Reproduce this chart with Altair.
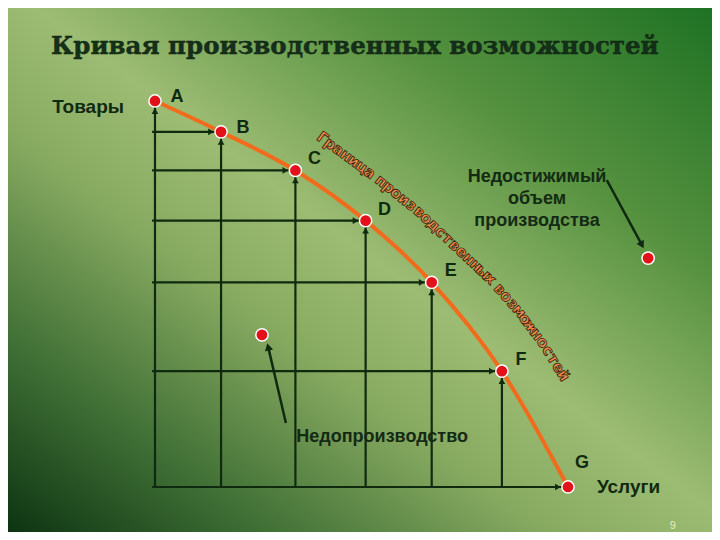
import math
import altair as alt
import pandas as pd

# ---------------- data ----------------
points = ["A", "B", "C", "D", "E", "F", "G"]
services = [0, 16, 34, 51, 67, 84, 100]      # Услуги
goods = [100, 92, 82, 69, 53, 30, 0]         # Товары

under_pt = [25.9, 39.4]                       # Недопроизводство
over_pt = [119.4, 59.3]                       # Недостижимый объем

title_text = "Кривая производственных возможностей"
frontier_text = "Граница производственных возможностей"
# path (data units) along which the frontier caption runs
cap_path_x = [39.6, 47.2, 54.5, 64.2, 73.8, 81.6, 88.4, 94.4, 99.5]
cap_path_y = [91.2, 85.2, 79.5, 71.2, 61.4, 53.6, 45.3, 36.8, 27.8]

# ---------------- layout ----------------
W, H = 704, 524
XD = [-35.59, 134.87]
YD = [-11.66, 124.09]
pxx = W / (XD[1] - XD[0])
pxy = H / (YD[1] - YD[0])

DARK = "#0f2a0f"
xs = alt.Scale(domain=XD, nice=False, zero=False)
ys = alt.Scale(domain=YD, nice=False, zero=False)


def X(f="x"):
    return alt.X(f, type="quantitative", scale=xs, axis=None)


def Y(f="y"):
    return alt.Y(f, type="quantitative", scale=ys, axis=None)


# background gradient
grad = alt.LinearGradient(
    gradient="linear",
    x1=1, y1=0, x2=0, y2=1,
    stops=[
        alt.GradientStop(offset=0.0, color="#1f7224"),
        alt.GradientStop(offset=0.25, color="#55913f"),
        alt.GradientStop(offset=0.48, color="#9dbc73"),
        alt.GradientStop(offset=0.62, color="#86a960"),
        alt.GradientStop(offset=0.82, color="#3f6f35"),
        alt.GradientStop(offset=1.0, color="#0d3412"),
    ],
)
bg = alt.Chart(pd.DataFrame({"a": [0]})).mark_rect(fill=grad, strokeWidth=0).encode(
    x=alt.value(0), x2=alt.value(W), y=alt.value(0), y2=alt.value(H)
)

pts = pd.DataFrame({"p": points, "x": services, "y": goods})

vdf = pd.DataFrame({"x": services[:-1], "y": [0] * 6, "y2": goods[:-1]})
hdf = pd.DataFrame({"x": [-0.7] * 6, "x2": services[1:], "y": goods[1:]})

vlines = alt.Chart(vdf).mark_rule(color=DARK, strokeWidth=2.2).encode(
    x=X(), y=Y(), y2="y2"
)
hlines = alt.Chart(hdf).mark_rule(color=DARK, strokeWidth=2.2).encode(
    x=X(), x2="x2", y=Y()
)
up_heads = alt.Chart(pts.iloc[:-1]).mark_point(
    shape="triangle-up", filled=True, size=45, color=DARK, opacity=1, yOffset=10
).encode(x=X(), y=Y())
right_heads = alt.Chart(pts.iloc[1:]).mark_point(
    shape="triangle-right", filled=True, size=45, color=DARK, opacity=1, xOffset=-10
).encode(x=X(), y=Y())

curve = alt.Chart(pts).mark_line(
    color="#f26b1d", strokeWidth=4, interpolate="monotone"
).encode(x=X(), y=Y())

extra = pd.DataFrame({"x": [under_pt[0], over_pt[0]], "y": [under_pt[1], over_pt[1]]})
allpts = pd.concat([pts[["x", "y"]], extra], ignore_index=True)
dots = alt.Chart(allpts).mark_circle(
    size=150, color="#e3121a", stroke="white", strokeWidth=1.5, opacity=1
).encode(x=X(), y=Y())

# pointer arrows
arr = pd.DataFrame({
    "x": [31.7, 109.4], "y": [16.6, 79.5],
    "x2": [27.4, 117.9], "y2": [36.3, 62.7],
    "ang": [346, 152],
})
arrows = alt.Chart(arr).mark_rule(color=DARK, strokeWidth=2.5).encode(
    x=X(), y=Y(), x2="x2", y2="y2"
)
arrow_heads = alt.Chart(arr).mark_point(
    shape="triangle-up", filled=True, size=70, color=DARK, opacity=1
).encode(x=X("x2"), y=Y("y2"), angle=alt.Angle("ang:Q", scale=None))

lab_style = dict(font="Liberation Sans", fontWeight="bold", fontSize=18, color=DARK,
                 align="center", baseline="middle")
labels1 = alt.Chart(pts.iloc[0:2]).mark_text(dx=22, dy=-4, **lab_style).encode(
    x=X(), y=Y(), text="p"
)
labels2 = alt.Chart(pts.iloc[2:6]).mark_text(dx=19, dy=-11, **lab_style).encode(
    x=X(), y=Y(), text="p"
)
labels3 = alt.Chart(pts.iloc[6:7]).mark_text(dx=14, dy=-24, **lab_style).encode(
    x=X(), y=Y(), text="p"
)

# free texts
texts = pd.DataFrame({
    "x": [-24.9, 107.0, 55.0],
    "y": [98.4, 0.0, 13.0],
    "t": ["Товары", "Услуги", "Недопроизводство"],
})
t_left = alt.Chart(texts.iloc[0:2]).mark_text(
    font="Liberation Sans", fontWeight="bold", fontSize=19, color=DARK,
    align="left", baseline="middle"
).encode(x=X(), y=Y(), text="t")
t_under = alt.Chart(texts.iloc[2:3]).mark_text(
    font="Liberation Sans", fontWeight="bold", fontSize=18, color="#142a14",
    align="center", baseline="middle"
).encode(x=X(), y=Y(), text="t")

t_over = alt.Chart(pd.DataFrame({"x": [92.5], "y": [80.3]})).mark_text(
    font="Liberation Sans", fontWeight="bold", fontSize=18, color="#142a14",
    align="center", baseline="middle", lineHeight=22,
    text=["Недостижимый", "объем", "производства"],
).encode(x=X(), y=Y())

# title
tdf = pd.DataFrame({"x": [48.4], "y": [114.0]})
title = alt.Chart(tdf).mark_text(
    font="DejaVu Serif", fontWeight="bold", fontSize=24.5, color="#15301a",
    stroke="#0c1e0c", strokeWidth=0.4,
    align="center", baseline="middle", text=title_text
).encode(x=X(), y=Y())

# caption along the frontier: characters spaced along the path (pixel arc length)
seg = []
for i in range(len(cap_path_x) - 1):
    dx = (cap_path_x[i + 1] - cap_path_x[i]) * pxx
    dy = -(cap_path_y[i + 1] - cap_path_y[i]) * pxy
    seg.append((dx, dy, math.hypot(dx, dy)))
total = sum(s[2] for s in seg)
weights = [0.45 if ch == " " else 1.0 for ch in frontier_text]
wsum = sum(weights)
rows = []
cum = 0.0
for ch, wt in zip(frontier_text, weights):
    d = (cum + wt / 2) / wsum * total
    cum += wt
    if ch == " ":
        continue
    acc = 0
    for i, (dx, dy, L) in enumerate(seg):
        if acc + L >= d or i == len(seg) - 1:
            f = (d - acc) / L
            xx = cap_path_x[i] + f * (cap_path_x[i + 1] - cap_path_x[i])
            yy = cap_path_y[i] + f * (cap_path_y[i + 1] - cap_path_y[i])
            ang = math.degrees(math.atan2(dy, dx)) % 360
            rows.append({"x": xx, "y": yy, "c": ch, "ang": ang})
            break
        acc += L
cap = alt.Chart(pd.DataFrame(rows)).mark_text(
    font="DejaVu Sans", fontWeight="bold", fontSize=15, fill="#ec8a4c",
    stroke="#3a1a05", strokeWidth=0.8, align="center", baseline="middle"
).encode(x=X(), y=Y(), text="c", angle=alt.Angle("ang:Q", scale=None))

pnum = alt.Chart(pd.DataFrame({"x": [125.4], "y": [-10.0]})).mark_text(
    font="Liberation Sans", fontSize=11, color="#e2efc2", text="9",
    align="center", baseline="middle"
).encode(x=X(), y=Y())

chart = alt.layer(
    bg, vlines, hlines, up_heads, right_heads, arrows, arrow_heads, curve, dots,
    labels1, labels2, labels3, t_left, t_under, t_over, cap, title, pnum
).properties(
    width=W, height=H, padding=0, autosize="none", background="#7aa257"
).configure_view(stroke=None)

chart.save("out.html", embed_options={"renderer": "svg", "actions": False})
